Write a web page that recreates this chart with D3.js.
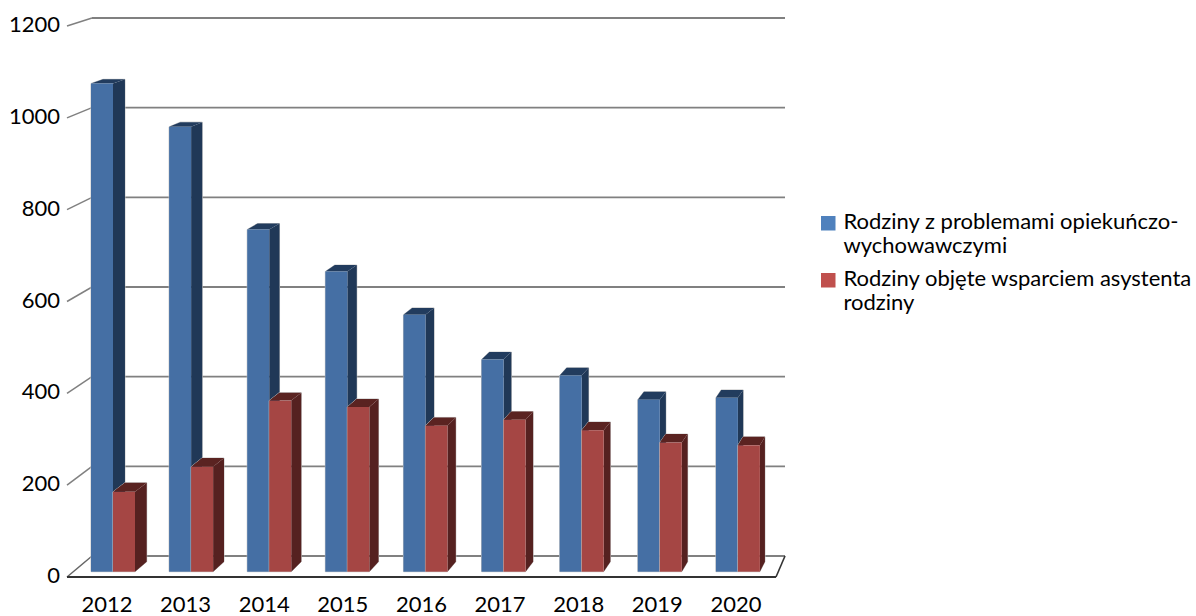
<!DOCTYPE html>
<html><head><meta charset="utf-8">
<script src="https://cdn.jsdelivr.net/npm/d3@7"></script>
<style>html,body{margin:0;background:#fff}svg{display:block}text{font-family:Lato,"Open Sans",sans-serif;fill:#000}</style>
</head><body><svg id="c" width="1196" height="616"></svg>
<script>
const categories=["2012","2013","2014","2015","2016","2017","2018","2019","2020"];
const seriesNames=[["Rodziny z problemami opiekuńczo-","wychowawczymi"],["Rodziny objęte wsparciem asystenta","rodziny"]];
const blueValues=[1070,975,750,658,563,465,430,377,381];
const redValues=[175,230,375,361,320,333,310,283,277];
const yTicks=[0,200,400,600,800,1000,1200];

const svg=d3.select("#c");
const yWallFront=d3.scaleLinear([0,1200],[577,26]);
const yWallBack=d3.scaleLinear([0,1200],[556,18]);
const yBar=d3.scaleLinear([0,1200],[571.7,24.2]);
const dyBar=d3.scaleLinear([0,1200],[10,3.5]);
const xBand=d3.scaleBand(categories,[91,794]).paddingInner(0).paddingOuter(0);
const xLabel=d3.scalePoint(categories,[107,736]);
const groupW=44;
const dxBar=d3.scaleLinear([91,765],[12.2,5]);
const grid="#808080";

yTicks.forEach(t=>{
  svg.append("line").attr("x1",67).attr("y1",yWallFront(t)).attr("x2",92).attr("y2",yWallBack(t)).attr("stroke",t===0?"#666":grid).attr("stroke-width",1.5);
  svg.append("line").attr("x1",92).attr("y1",yWallBack(t)).attr("x2",785).attr("y2",yWallBack(t)).attr("stroke",grid).attr("stroke-width",1.8);
  svg.append("text").attr("x",60).attr("y",yWallFront(t)+6).attr("text-anchor","end").attr("font-size",22).text(d3.format("d")(t));
});
svg.append("line").attr("x1",67).attr("y1",577).attr("x2",776).attr("y2",577).attr("stroke","#333").attr("stroke-width",1.8);
svg.append("line").attr("x1",776).attr("y1",577).attr("x2",785).attr("y2",556).attr("stroke","#333").attr("stroke-width",1.6);

const palettes=[{f:"#456fa4",s:"#203857",t:"#223c5e"},{f:"#a54644",s:"#552120",t:"#5a2321"}];
function bar(xl,w,v,p){
  const xr=xl+w,y=yBar(v),y0=yBar(0),d=dxBar(xr),dt=dyBar(v),db=dyBar(0);
  const pts=a=>a.map(q=>q.join(",")).join(" ");
  svg.append("polygon").attr("points",pts([[xl,y],[xl+d,y-dt],[xr+d,y-dt],[xr+d,y0-db],[xr,y0],[xl,y0]])).attr("fill","none").attr("stroke","#c4c4c4").attr("stroke-width",1);
  svg.append("polygon").attr("points",pts([[xr,y],[xr+d,y-dt],[xr+d,y0-db],[xr,y0]])).attr("fill",p.s);
  svg.append("polygon").attr("points",pts([[xl,y],[xl+d,y-dt],[xr+d,y-dt],[xr,y]])).attr("fill",p.t);
  svg.append("rect").attr("x",xl).attr("y",y).attr("width",w).attr("height",y0-y).attr("fill",p.f);
}
categories.forEach((c,i)=>{
  const x0=xBand(c);
  bar(x0,groupW/2,blueValues[i],palettes[0]);
  bar(x0+groupW/2,groupW/2,redValues[i],palettes[1]);
  svg.append("text").attr("x",xLabel(c)).attr("y",611.5).attr("text-anchor","middle").attr("font-size",22).text(c);
});
const legendColors=["#4f81bd","#c0504d"];
const legendY=[[228.5,253],[285.5,310]];
[0,1].forEach(i=>{
  svg.append("rect").attr("x",821).attr("y",legendY[i][0]-12.5).attr("width",14.5).attr("height",14.5).attr("fill",legendColors[i]);
  seriesNames[i].forEach((s,j)=>svg.append("text").attr("x",843.5).attr("y",legendY[i][j]).attr("font-size",22).text(s));
});
</script></body></html>
